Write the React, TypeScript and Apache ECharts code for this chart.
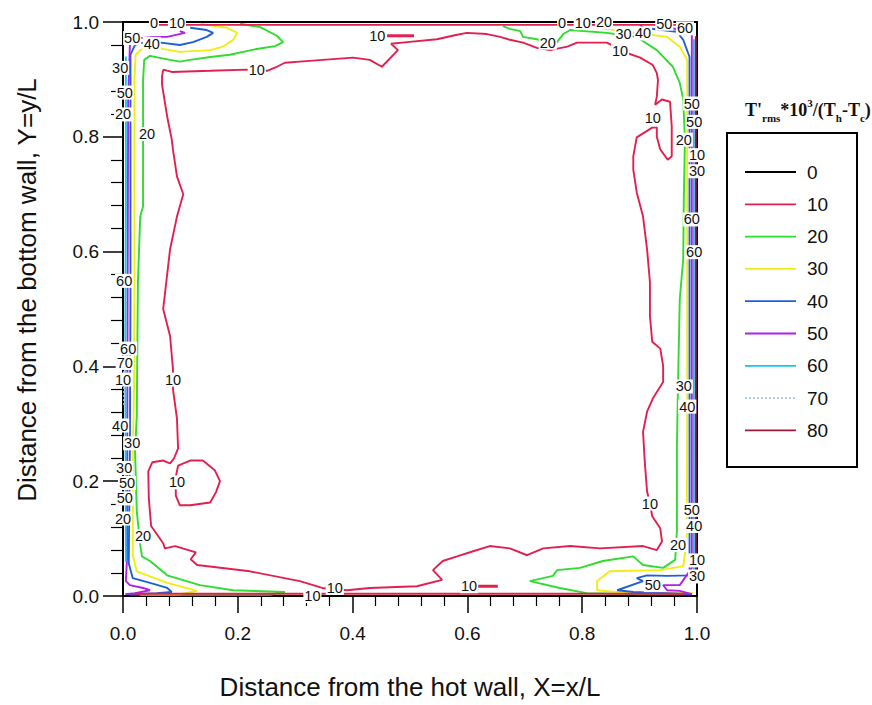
import { useEffect, useRef } from "react";
import * as echarts from "echarts";

// Contour levels of T'rms*10^3/(Th-Tc) and their line colours
const levels = [0, 10, 20, 30, 40, 50, 60, 70, 80];
const levelColors = ["#000000", "#e2204f", "#2fdc2f", "#f0ec14", "#1f5fd6", "#b020e6", "#12c6ee", "#a9c6e6", "#9c1a3c"];

type Pt = [number, number];

// Level 10: large loop around the core
const c10Main: Pt[] = [
  [0.070, 0.917], [0.085, 0.913], [0.152, 0.915], [0.216, 0.917], [0.251, 0.915], [0.268, 0.922], [0.282, 0.929],
  [0.308, 0.931], [0.348, 0.934], [0.401, 0.938], [0.430, 0.934], [0.451, 0.922], [0.479, 0.951], [0.467, 0.962],
  [0.495, 0.965], [0.547, 0.970], [0.578, 0.977], [0.599, 0.981], [0.634, 0.979], [0.657, 0.974], [0.674, 0.969],
  [0.697, 0.964], [0.721, 0.955], [0.744, 0.951], [0.774, 0.957], [0.791, 0.964], [0.843, 0.964], [0.878, 0.946],
  [0.901, 0.938], [0.923, 0.925], [0.930, 0.911], [0.932, 0.899], [0.930, 0.870], [0.927, 0.856], [0.939, 0.865],
  [0.953, 0.861], [0.956, 0.818], [0.956, 0.766], [0.949, 0.760], [0.936, 0.778], [0.930, 0.800], [0.930, 0.816],
  [0.922, 0.816], [0.895, 0.799], [0.889, 0.766], [0.889, 0.743], [0.895, 0.703], [0.906, 0.661], [0.913, 0.604],
  [0.918, 0.547], [0.918, 0.488], [0.922, 0.443], [0.936, 0.431], [0.941, 0.401], [0.941, 0.373], [0.923, 0.344],
  [0.913, 0.321], [0.906, 0.286], [0.909, 0.234], [0.913, 0.182], [0.918, 0.161], [0.922, 0.139], [0.936, 0.118],
  [0.939, 0.095], [0.930, 0.080], [0.906, 0.087], [0.831, 0.083], [0.779, 0.087], [0.732, 0.083], [0.704, 0.071],
  [0.674, 0.083], [0.639, 0.087], [0.610, 0.078], [0.582, 0.069], [0.557, 0.061], [0.540, 0.045], [0.556, 0.028],
  [0.512, 0.017], [0.430, 0.014], [0.390, 0.010], [0.369, 0.012], [0.347, 0.014], [0.308, 0.026], [0.221, 0.043],
  [0.129, 0.054], [0.118, 0.064], [0.127, 0.076], [0.091, 0.087], [0.073, 0.083], [0.070, 0.092], [0.049, 0.122],
  [0.045, 0.170], [0.044, 0.217], [0.051, 0.233], [0.070, 0.236], [0.082, 0.231], [0.089, 0.240], [0.096, 0.257],
  [0.094, 0.309], [0.087, 0.361], [0.087, 0.396], [0.082, 0.453], [0.070, 0.500], [0.082, 0.604], [0.094, 0.661],
  [0.105, 0.700], [0.094, 0.731], [0.087, 0.778], [0.085, 0.795], [0.077, 0.835], [0.068, 0.891], [0.068, 0.905],
  [0.070, 0.917],
];
// Level 10: small island near the lower left
const c10Island: Pt[] = [
  [0.092, 0.208], [0.096, 0.227], [0.117, 0.236], [0.139, 0.236], [0.160, 0.219], [0.169, 0.200], [0.162, 0.181],
  [0.152, 0.163], [0.117, 0.158], [0.099, 0.158], [0.092, 0.175], [0.092, 0.208],
];
const c10TopDash: Pt[] = [[0.460, 0.976], [0.507, 0.976]];
const c10BottomDash: Pt[] = [[0.618, 0.017], [0.653, 0.017]];
const c10TopWall: Pt[] = [[0.06, 0.995], [0.985, 0.995]];
const c10BottomWall: Pt[] = [[0.02, 0.004], [0.98, 0.004]];

// Level 20
const c20Left: Pt[] = [
  [0.204, 0.997], [0.239, 0.991], [0.268, 0.976], [0.279, 0.965], [0.265, 0.958], [0.233, 0.953], [0.186, 0.943],
  [0.152, 0.939], [0.117, 0.934], [0.099, 0.931], [0.082, 0.934], [0.047, 0.941], [0.037, 0.934], [0.035, 0.899],
  [0.035, 0.766], [0.035, 0.679], [0.030, 0.661], [0.026, 0.547], [0.024, 0.314], [0.021, 0.252], [0.024, 0.148],
  [0.030, 0.089], [0.033, 0.069], [0.047, 0.061], [0.077, 0.036], [0.134, 0.019], [0.192, 0.010], [0.282, 0.007],
  [0.256, 0.002], [0.030, 0.002],
];
const c20Right: Pt[] = [
  [0.662, 0.993], [0.674, 0.988], [0.692, 0.984], [0.697, 0.974], [0.721, 0.970], [0.740, 0.965], [0.756, 0.965],
  [0.767, 0.979], [0.779, 0.986], [0.843, 0.981], [0.871, 0.977], [0.895, 0.974], [0.930, 0.951], [0.958, 0.922],
  [0.970, 0.894], [0.976, 0.865], [0.979, 0.795], [0.977, 0.691], [0.976, 0.587], [0.970, 0.517], [0.967, 0.373],
  [0.965, 0.257], [0.965, 0.113], [0.962, 0.063], [0.941, 0.049], [0.906, 0.054], [0.889, 0.069], [0.836, 0.061],
  [0.796, 0.049], [0.756, 0.045], [0.749, 0.035], [0.709, 0.026], [0.761, 0.014], [0.808, 0.005], [0.901, 0.003],
  [0.988, 0.003],
];

// Level 30
const c30Left: Pt[] = [
  [0.134, 0.997], [0.181, 0.990], [0.199, 0.981], [0.192, 0.969], [0.174, 0.957], [0.152, 0.951], [0.099, 0.948],
  [0.047, 0.957], [0.030, 0.951], [0.022, 0.943], [0.020, 0.899], [0.020, 0.766], [0.020, 0.517], [0.019, 0.344],
  [0.017, 0.252], [0.017, 0.071], [0.024, 0.043], [0.077, 0.023], [0.129, 0.009], [0.099, 0.003], [0.012, 0.003],
];
const c30Right: Pt[] = [
  [0.826, 0.997], [0.831, 0.990], [0.878, 0.983], [0.948, 0.974], [0.970, 0.957], [0.983, 0.934], [0.983, 0.905],
  [0.983, 0.691], [0.983, 0.517], [0.983, 0.292], [0.982, 0.095], [0.976, 0.052], [0.936, 0.045], [0.848, 0.043],
  [0.826, 0.026], [0.826, 0.010], [0.878, 0.005], [0.993, 0.005],
];

// Level 40
const c40Left: Pt[] = [
  [0.117, 0.990], [0.146, 0.986], [0.157, 0.981], [0.146, 0.974], [0.122, 0.965], [0.099, 0.960], [0.059, 0.965],
  [0.035, 0.964], [0.021, 0.960], [0.013, 0.943], [0.013, 0.865], [0.013, 0.517], [0.012, 0.257], [0.010, 0.057],
  [0.017, 0.031], [0.047, 0.023], [0.077, 0.014], [0.085, 0.007], [0.059, 0.005], [0.009, 0.003],
];
const c40Right: Pt[] = [
  [0.901, 0.995], [0.906, 0.990], [0.965, 0.983], [0.976, 0.969], [0.987, 0.939], [0.987, 0.865], [0.987, 0.517],
  [0.987, 0.066], [0.987, 0.036], [0.948, 0.035], [0.913, 0.036], [0.895, 0.031], [0.906, 0.026], [0.861, 0.010],
  [0.889, 0.007], [0.991, 0.003],
];

// Level 50
const c50Left: Pt[] = [
  [0.099, 0.984], [0.108, 0.981], [0.077, 0.974], [0.052, 0.974], [0.030, 0.972], [0.012, 0.960], [0.009, 0.865],
  [0.008, 0.517], [0.007, 0.066], [0.005, 0.026], [0.012, 0.019], [0.035, 0.014], [0.047, 0.010], [0.021, 0.005],
  [0.004, 0.003],
];
const c50Right: Pt[] = [
  [0.941, 0.997], [0.948, 0.990], [0.976, 0.986], [0.991, 0.980], [0.991, 0.920], [0.991, 0.517], [0.991, 0.049],
  [0.970, 0.019], [0.941, 0.019], [0.948, 0.010], [0.970, 0.009], [0.991, 0.003],
];

// Levels 60 to 80, pressed against the walls
const c60Left: Pt[] = [[0.005, 0.94], [0.005, 0.70], [0.004, 0.45], [0.005, 0.06]];
const c60Right: Pt[] = [[0.9945, 0.97], [0.9945, 0.60], [0.9945, 0.04]];
const c70Left: Pt[] = [[0.002, 0.42], [0.002, 0.33]];
const c80Right: Pt[] = [[0.998, 0.975], [0.998, 0.03]];

const contourLines: { level: number; pts: Pt[]; width?: number }[] = [
  { level: 20, pts: c20Left }, { level: 20, pts: c20Right },
  { level: 30, pts: c30Left }, { level: 30, pts: c30Right },
  { level: 40, pts: c40Left }, { level: 40, pts: c40Right },
  { level: 50, pts: c50Left }, { level: 50, pts: c50Right },
  { level: 60, pts: c60Left }, { level: 60, pts: c60Right },
  { level: 70, pts: c70Left }, { level: 80, pts: c80Right },
  { level: 10, pts: c10TopWall }, { level: 10, pts: c10BottomWall },
  { level: 10, pts: c10Main }, { level: 10, pts: c10Island },
  { level: 10, pts: c10TopDash, width: 3 }, { level: 10, pts: c10BottomDash, width: 3 },
];

// In-line level labels: [X, Y, text]
const contourLabels: [number, number, string][] = [
  [0.233, 0.917, "10"], [0.866, 0.949, "10"], [0.923, 0.833, "10"], [0.918, 0.161, "10"], [0.369, 0.014, "10"],
  [0.087, 0.377, "10"], [0.094, 0.198, "10"], [0.443, 0.976, "10"], [0.603, 0.017, "10"], [0.740, 0.964, "20"],
  [0.042, 0.805, "20"], [0.035, 0.104, "20"], [0.977, 0.795, "20"], [0.967, 0.089, "20"], [0.923, 0.019, "50"],
  [0.050, 0.962, "40"], [0.016, 0.972, "50"],
  [0.054, 0.998, "0"], [0.094, 0.998, "10"], [-0.005, 0.920, "30"], [0.003, 0.877, "50"], [0.0, 0.839, "20"],
  [0.002, 0.549, "60"], [0.009, 0.431, "60"], [0.003, 0.406, "70"], [0.0, 0.377, "10"], [-0.005, 0.297, "40"],
  [0.016, 0.266, "30"], [0.002, 0.223, "30"], [0.007, 0.197, "50"], [0.003, 0.170, "50"], [0.0, 0.135, "20"],
  [0.991, 0.858, "50"], [0.995, 0.826, "50"], [1.0, 0.768, "10"], [1.0, 0.740, "30"], [0.991, 0.656, "60"],
  [0.995, 0.599, "60"], [0.977, 0.365, "30"], [0.983, 0.330, "40"], [0.991, 0.150, "50"], [0.995, 0.122, "40"],
  [1.0, 0.062, "10"], [1.0, 0.034, "30"],
  [0.765, 0.998, "0"], [0.801, 0.998, "10"], [0.838, 1.0, "20"], [0.872, 0.979, "30"], [0.906, 0.980, "40"],
  [0.943, 0.997, "50"], [0.979, 0.989, "60"],
  [0.330, 0.0, "10"],
];

const FONT = "'Liberation Sans', Arial, sans-serif";
const SERIF = "'Liberation Serif', 'DejaVu Serif', serif";

export default function App() {
  const ref = useRef<HTMLDivElement>(null);

  useEffect(() => {
    if (!ref.current) return;
    const chart = echarts.init(ref.current, undefined, { renderer: "svg" });

    const colorOf = (lv: number) => levelColors[levels.indexOf(lv)];

    const lineSeries = contourLines.map((c) => ({
      type: "line",
      name: String(c.level),
      data: c.pts,
      showSymbol: false,
      symbol: "none",
      smooth: false,
      clip: false,
      lineStyle: {
        color: colorOf(c.level),
        width: c.width ?? 1.9,
        type: c.level === 70 ? [2, 2] : "solid",
      },
      z: 3,
    }));

    // Legend box drawn beside the plot
    const lgX = 745;
    const lgY0 = 172;
    const lgStep = 32.3;
    const legendItems: any[] = [];
    levels.forEach((lv, i) => {
      const y = lgY0 + i * lgStep;
      legendItems.push({
        type: "line",
        shape: { x1: lgX, y1: y, x2: lgX + 51, y2: y },
        style: { stroke: levelColors[i], lineWidth: 1.8, lineDash: lv === 70 ? [2, 2] : null },
      });
      legendItems.push({
        type: "text",
        x: lgX + 62,
        y,
        style: { text: String(lv), fontSize: 19, fontFamily: FONT, fill: "#111", verticalAlign: "middle" },
      });
    });

    chart.setOption({
      animation: false,
      backgroundColor: "#ffffff",
      grid: { left: 123, right: 175, top: 22, bottom: 107, show: true, borderColor: "#000", borderWidth: 2 },
      xAxis: {
        type: "value",
        min: 0,
        max: 1,
        interval: 0.2,
        name: "Distance from the hot wall, X=x/L",
        nameLocation: "middle",
        nameGap: 78,
        nameTextStyle: { fontSize: 26, color: "#111", fontFamily: FONT },
        axisLine: { show: true, onZero: false, lineStyle: { color: "#000", width: 1.5 } },
        axisTick: { show: true, inside: false, length: 17, lineStyle: { color: "#000", width: 1.5 } },
        minorTick: { show: true, splitNumber: 5, length: 10, lineStyle: { color: "#000", width: 1.2 } },
        splitLine: { show: false },
        minorSplitLine: { show: false },
        axisLabel: { formatter: (v: number) => v.toFixed(1), fontSize: 19, color: "#111", margin: 28, fontFamily: FONT },
      },
      yAxis: {
        type: "value",
        min: 0,
        max: 1,
        interval: 0.2,
        axisLine: { show: true, onZero: false, lineStyle: { color: "#000", width: 1.5 } },
        axisTick: { show: true, inside: false, length: 20, lineStyle: { color: "#000", width: 1.5 } },
        minorTick: { show: true, splitNumber: 5, length: 12, lineStyle: { color: "#000", width: 1.2 } },
        splitLine: { show: false },
        minorSplitLine: { show: false },
        axisLabel: { formatter: (v: number) => v.toFixed(1), fontSize: 19, color: "#111", margin: 24, fontFamily: FONT },
      },
      series: [
        ...lineSeries,
        {
          type: "scatter",
          name: "labels",
          clip: false,
          symbolSize: 1,
          itemStyle: { color: "rgba(0,0,0,0)" },
          data: contourLabels.map(([x, y, t]) => ({ value: [x, y], name: t })),
          label: {
            show: true,
            position: "inside",
            formatter: "{b}",
            fontSize: 14.5,
            lineHeight: 14,
            fontFamily: FONT,
            color: "#111",
            opacity: 1,
            backgroundColor: "#fff",
            padding: [0, 1],
          },
          z: 10,
        },
      ],
      graphic: [
        {
          // y-axis title
          type: "text",
          x: 27,
          y: 290,
          rotation: Math.PI / 2,
          style: {
            text: "Distance from the bottom wall, Y=y/L",
            fontSize: 26,
            fontFamily: FONT,
            fill: "#111",
            align: "center",
            verticalAlign: "middle",
          },
        },
        {
          type: "text",
          x: 745,
          y: 110,
          style: {
            text: "{a|T'}{s|rms}{a|*10}{p|3}{a|/(T}{s|h}{a|-T}{s|c}{a|)}",
            verticalAlign: "middle",
            rich: {
              a: { fontSize: 18, fontWeight: "bold", fontFamily: SERIF, fill: "#111", lineHeight: 26, verticalAlign: "middle" },
              s: { fontSize: 11, fontWeight: "bold", fontFamily: SERIF, fill: "#111", lineHeight: 12, verticalAlign: "bottom" },
              p: { fontSize: 11, fontWeight: "bold", fontFamily: SERIF, fill: "#111", lineHeight: 12, verticalAlign: "top" },
            },
          },
        },
        {
          type: "rect",
          shape: { x: 727, y: 133, width: 130, height: 334 },
          style: { fill: "none", stroke: "#000", lineWidth: 2 },
        },
        ...legendItems,
      ],
    });

    return () => chart.dispose();
  }, []);

  return <div ref={ref} style={{ position: "fixed", left: 0, top: 0, width: 872, height: 705 }} />;
}
